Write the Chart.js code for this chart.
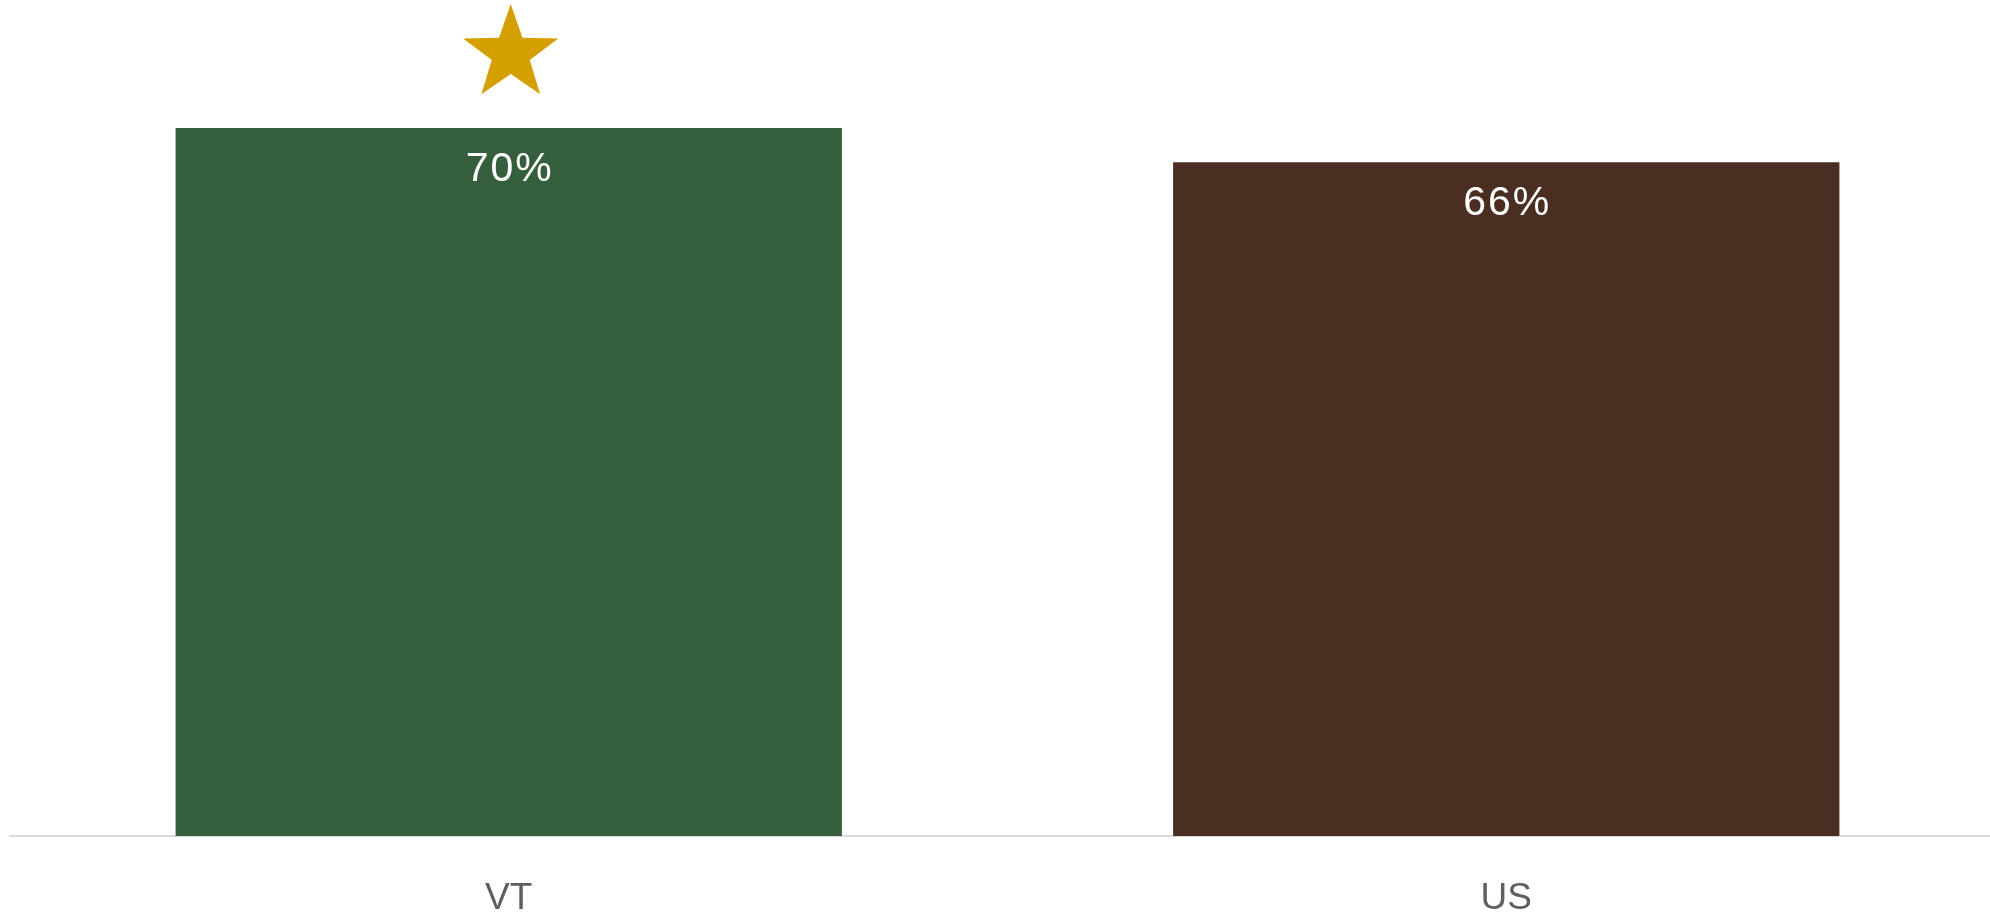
<!DOCTYPE html>
<html>
<head>
<meta charset="utf-8">
<script src="https://cdn.jsdelivr.net/npm/chart.js@4.4.1/dist/chart.umd.min.js"></script>
<style>
  html, body { margin: 0; padding: 0; background: #fff; overflow: hidden; }
  #wrap { width: 1990px; height: 914px; overflow: hidden; }
</style>
</head>
<body>
<div id="wrap"><canvas id="chart" width="2010" height="914"></canvas></div>
<script>
// Share of respondents, VT vs US.
const regions = ['VT', 'US'];
const shares = [70.3, 66.9];
const barColors = ['#355e3d', '#4a2e21'];
// Region that gets the gold star.
const starredRegion = 'VT';

const FONT = '"Liberation Sans", Arial, sans-serif';

// Percent labels inside the top of each bar.
const valueLabels = {
  id: 'valueLabels',
  afterDatasetsDraw(chart) {
    const ctx = chart.ctx;
    const meta = chart.getDatasetMeta(0);
    ctx.save();
    ctx.fillStyle = '#ffffff';
    ctx.font = '41px ' + FONT;
    ctx.letterSpacing = '2px';
    ctx.textAlign = 'center';
    ctx.textBaseline = 'middle';
    meta.data.forEach((bar, i) => {
      ctx.fillText(Math.floor(shares[i]) + '%', bar.x + 1, bar.y + 42);
    });
    ctx.restore();
  }
};

// Gold star above the highlighted bar.
const starMarker = {
  id: 'starMarker',
  afterDatasetsDraw(chart) {
    const idx = regions.indexOf(starredRegion);
    if (idx < 0) return;
    const bar = chart.getDatasetMeta(0).data[idx];
    const ctx = chart.ctx;
    const cx = bar.x + 2;
    const cy = bar.y - 74;
    const outer = 50;
    const inner = 20;
    ctx.save();
    ctx.fillStyle = '#d4a000';
    ctx.beginPath();
    for (let k = 0; k < 10; k++) {
      const r = k % 2 === 0 ? outer : inner;
      const a = -Math.PI / 2 + k * Math.PI / 5;
      const px = cx + r * Math.cos(a);
      const py = cy + r * Math.sin(a);
      if (k === 0) ctx.moveTo(px, py); else ctx.lineTo(px, py);
    }
    ctx.closePath();
    ctx.fill();
    ctx.restore();
  }
};

new Chart(document.getElementById('chart'), {
  type: 'bar',
  data: {
    labels: regions,
    datasets: [{
      data: shares,
      backgroundColor: barColors,
      borderWidth: 0,
      barPercentage: 0.668,
      categoryPercentage: 1.0
    }]
  },
  options: {
    responsive: false,
    animation: false,
    layout: { padding: { left: 10, right: 5, top: 0, bottom: 0 } },
    plugins: {
      legend: { display: false },
      tooltip: { enabled: false }
    },
    scales: {
      x: {
        grid: { display: false, drawTicks: false },
        border: { display: true, color: '#d9d9d9', width: 2 },
        ticks: {
          color: '#5f5f5f',
          padding: 44,
          font: { family: FONT, size: 37, lineHeight: 1.0 }
        },
        // keep the axis band at the reference height
        afterFit(scale) { scale.height = 78; }
      },
      y: {
        display: false,
        min: 0,
        max: 83
      }
    }
  },
  plugins: [valueLabels, starMarker]
});
</script>
</body>
</html>
